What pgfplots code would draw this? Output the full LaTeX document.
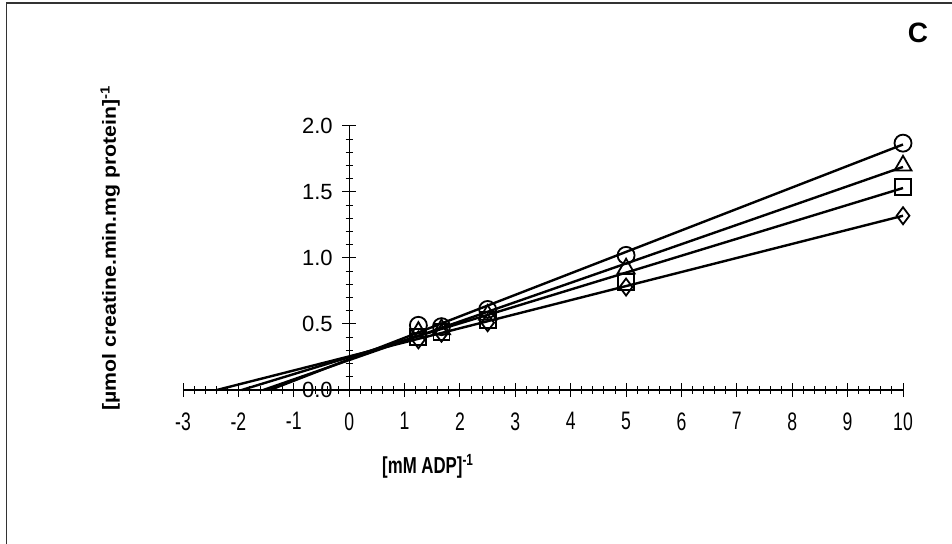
\documentclass[border=0pt]{standalone}
\usepackage{fontspec}
\setmainfont{Liberation Sans}
\usepackage{graphicx}
\usepackage{pgfplots}
\pgfplotsset{compat=1.18}
\begin{document}
\begin{tikzpicture}
\useasboundingbox (0pt,0pt) rectangle (952pt,543pt);
\draw[line width=1.5pt, black!80] (6.5pt,-20pt) -- (6.5pt,540pt) -- (975pt,540pt);
\node[font=\fontsize{28}{28}\selectfont\bfseries] at (918pt,510pt) {C};
\begin{axis}[
  at={(183pt,153pt)}, anchor=south west,
  scale only axis, width=720pt, height=264pt,
  xmin=-3, xmax=10, ymin=0, ymax=2,
  axis lines=middle, axis line style={-, line width=1.2pt},
  xtick={-3,-2,...,10}, ytick={0,0.5,1,1.5,2},
  minor x tick num=4, minor y tick num=4,
  tick align=center,
  major tick length=14pt, minor tick length=7pt,
  tick style={line width=1pt, black},
  hide obscured x ticks=false, hide obscured y ticks=false,
  /pgf/number format/assume math mode=true,
  yticklabel style={font=\fontsize{22}{22}\selectfont, xshift=-6pt, /pgf/number format/.cd, fixed, fixed zerofill, precision=1},
  xticklabel style={font=\fontsize{22}{22}\selectfont, xscale=0.8, yscale=1.15, yshift=-10pt},
  xlabel={\scalebox{0.8}[1.1]{\fontsize{21}{21}\selectfont\bfseries [mM ADP]\textsuperscript{-1}}},
  ylabel={\scalebox{1.12}[1]{\fontsize{19}{19}\selectfont\bfseries [\textmu mol creatine.min.mg protein]\textsuperscript{-1}}},
  xlabel style={at={(rel axis cs:0.34,-0.29)}, anchor=center},
  ylabel style={at={(rel axis cs:-0.101,0.538)}, anchor=center, rotate=90},
  clip=false,
]
% regression lines
\addplot[black, line width=2.4pt, no marks] coordinates {(-1.43,0) (10,1.86)};
\addplot[black, line width=2.4pt, no marks] coordinates {(-1.55,0) (10,1.69)};
\addplot[black, line width=2.4pt, no marks] coordinates {(-1.94,0) (10,1.53)};
\addplot[black, line width=2.4pt, no marks] coordinates {(-2.39,0) (10,1.32)};
% data points
\addplot[only marks, mark=diamond, mark size=8.5pt, mark options={fill=white, line width=1.8pt, black}] coordinates {(1.25,0.38) (1.667,0.43) (2.5,0.51) (5,0.78) (10,1.32)};
\addplot[only marks, mark=square, mark size=8pt, mark options={fill=white, line width=1.8pt, black}] coordinates {(1.25,0.40) (1.667,0.44) (2.5,0.53) (5,0.82) (10,1.54)};
\addplot[only marks, mark=triangle, mark size=9.8pt, mark options={fill=white, line width=1.8pt, black}] coordinates {(1.25,0.44) (1.667,0.46) (2.5,0.57) (5,0.92) (10,1.70)};
\addplot[only marks, mark=o, mark size=8.5pt, mark options={fill=white, line width=1.8pt, black}] coordinates {(1.25,0.49) (1.667,0.48) (2.5,0.61) (5,1.02) (10,1.87)};
\end{axis}
\end{tikzpicture}
\end{document}
